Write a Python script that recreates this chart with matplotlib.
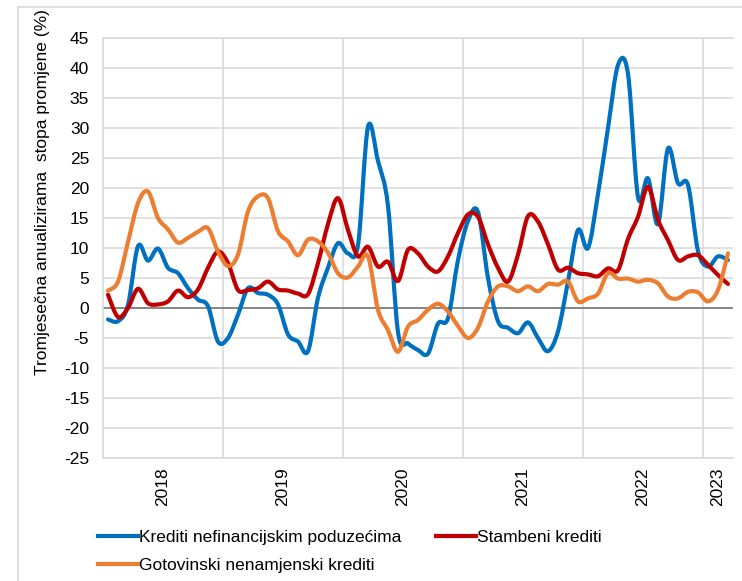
import numpy as np
import matplotlib
matplotlib.use("Agg")
import matplotlib.pyplot as plt
from matplotlib.path import Path
from matplotlib.patches import PathPatch
from matplotlib.lines import Line2D

plt.rcParams["font.family"] = ["Liberation Sans", "DejaVu Sans"]
plt.rcParams["axes.unicode_minus"] = False

# === Data: monthly, Jan 2018 - Mar 2023 ===
years = ["2018", "2019", "2020", "2021", "2022", "2023"]
months_per_year = [12, 12, 12, 12, 12, 3]

krediti_poduzeca = [
    -1.9, -2.2, 0.5, 10.3, 7.9, 9.9, 6.7, 5.8, 3.3, 1.4, 0.3, -5.6,
    -5.0, -1.1, 3.3, 2.5, 2.2, 0.6, -4.4, -5.6, -7.2, 1.7, 6.7, 10.8,
    9.1, 10.5, 30.2, 24.5, 17.0, -4.0, -5.9, -7.0, -7.6, -2.6, -1.7, 8.0,
    14.5, 16.0, 5.0, -2.2, -3.3, -4.2, -2.4, -5.0, -7.2, -3.9, 4.4, 13.0,
    10.0, 19.0, 30.0, 40.5, 39.0, 18.5, 21.6, 14.0, 26.6, 20.8, 20.5, 9.5,
    6.9, 8.6, 8.0,
]
stambeni_krediti = [
    2.2, -1.5, 0.0, 3.2, 0.8, 0.6, 1.1, 2.9, 1.8, 3.1, 6.7, 9.4,
    7.5, 3.0, 3.0, 3.3, 4.4, 3.1, 2.9, 2.4, 2.3, 7.5, 14.0, 18.3,
    13.0, 8.6, 10.2, 6.9, 7.7, 4.5, 9.7, 9.1, 6.9, 6.1, 8.6, 12.5,
    15.6, 15.2, 10.6, 6.7, 4.4, 8.9, 15.3, 14.4, 10.6, 6.4, 6.7, 5.8,
    5.6, 5.3, 6.6, 6.3, 11.5, 15.2, 20.2, 14.7, 11.3, 8.0, 8.6, 8.8,
    7.2, 5.5, 4.0,
]
gotovinski_krediti = [
    2.9, 4.4, 11.0, 17.5, 19.4, 15.0, 13.1, 10.9, 11.7, 12.7, 13.3, 9.4,
    7.0, 8.9, 16.1, 18.6, 18.3, 12.8, 11.1, 8.8, 11.4, 11.1, 9.2, 5.8,
    5.1, 6.9, 8.6, -0.3, -3.7, -7.3, -3.1, -2.0, -0.3, 0.7, -0.6, -3.0,
    -5.0, -3.3, 1.1, 3.6, 3.6, 2.8, 3.6, 2.8, 4.0, 3.9, 4.4, 1.1,
    1.6, 2.4, 5.8, 4.9, 4.9, 4.4, 4.7, 4.1, 1.9, 1.6, 2.7, 2.6,
    1.1, 3.0, 9.1,
]

# (label, values, colour, z-order)
series = [
    ("Krediti nefinancijskim poduzećima", krediti_poduzeca, "#0070C0", 3),
    ("Gotovinski nenamjenski krediti", gotovinski_krediti, "#ED7D31", 5),
    ("Stambeni krediti", stambeni_krediti, "#C00000", 4),
]


def smooth_path(x, y):
    # Excel-style smoothed line: cubic bezier segments through the points
    pts = np.column_stack([np.asarray(x, float), np.asarray(y, float)])
    n = len(pts)
    verts = [pts[0]]
    codes = [Path.MOVETO]
    for i in range(n - 1):
        p0 = pts[i - 1] if i > 0 else pts[i]
        p1 = pts[i]
        p2 = pts[i + 1]
        p3 = pts[i + 2] if i + 2 < n else pts[i + 1]
        verts += [p1 + (p2 - p0) / 6.0, p2 - (p3 - p1) / 6.0, p2]
        codes += [Path.CURVE4] * 3
    return Path(verts, codes)


# === Figure ===
fig = plt.figure(figsize=(7.42, 5.81), dpi=100)
ax = fig.add_axes([103 / 742, 1 - 458 / 581, 630 / 742, 420 / 581])

grid_color = "#d9d9d9"
fs = 12.5
n_months = sum(months_per_year)
x = np.arange(n_months)

ax.set_xlim(-0.5, n_months - 0.5)
ax.set_ylim(-25, 45)
ax.set_yticks(np.arange(-25, 46, 5))
ax.yaxis.grid(True, color=grid_color, lw=1.1)
ax.set_axisbelow(True)

# year boundaries and year label positions
bounds = np.cumsum([0] + months_per_year) - 0.5
centers = [(bounds[i] + bounds[i + 1]) / 2 for i in range(len(years))]
ax.set_xticks(centers)
ax.set_xticklabels(years, rotation=90, fontsize=fs)
ax.set_xticks(bounds[1:-1], minor=True)
ax.xaxis.grid(True, which="minor", color=grid_color, lw=1.1)
ax.tick_params(axis="x", which="both", length=0, pad=7)
ax.tick_params(axis="y", length=0, pad=10, labelsize=fs)

for side in ["top", "bottom", "left"]:
    ax.spines[side].set_color(grid_color)
    ax.spines[side].set_linewidth(1.1)
ax.spines["right"].set_visible(False)

ax.axhline(0, color="#808080", lw=1.3, zorder=1.5)

handles = []
for label, vals, color, z in series:
    patch = PathPatch(smooth_path(x, vals), fill=False, edgecolor=color,
                      lw=3, capstyle="round", joinstyle="round", zorder=z)
    ax.add_patch(patch)
    handles.append(Line2D([0], [0], color=color, lw=3, label=label))

fig.text(43 / 742, 1 - 192 / 581, "Tromjesečna anualizirama  stopa promjene (%)",
         rotation=90, ha="center", va="center", fontsize=fs)

fig.legend(handles=handles, loc="upper left", ncol=2,
           bbox_to_anchor=(98 / 742, 1 - 530 / 581), frameon=False,
           fontsize=fs, handlelength=2.3, handletextpad=0.05,
           columnspacing=2.0, labelspacing=0.75, borderaxespad=0,
           borderpad=0)

# outer frame
fig.add_artist(Line2D([18 / 742, 18 / 742], [0, 1 - 7 / 581], color=grid_color,
                      lw=1.2, transform=fig.transFigure))
fig.add_artist(Line2D([18 / 742, 1], [1 - 7 / 581, 1 - 7 / 581], color=grid_color,
                      lw=1.2, transform=fig.transFigure))

fig.savefig("out.png", dpi=100)
